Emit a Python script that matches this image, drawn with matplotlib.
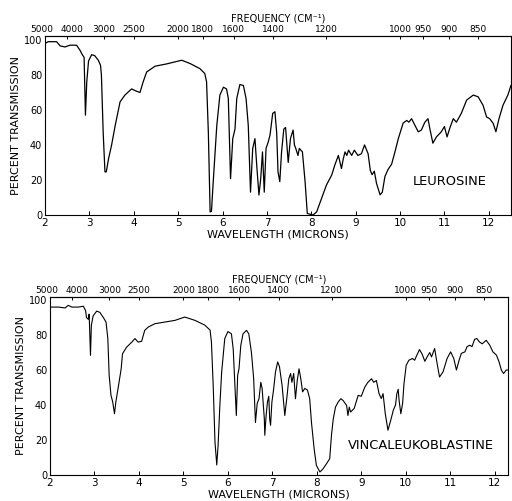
import numpy as np
import matplotlib
matplotlib.use('Agg')
import matplotlib.pyplot as plt
import matplotlib.transforms as mtrans

# Wavelength (microns) and percent transmission
leu_wl = [2.0, 2.07, 2.26, 2.34, 2.45, 2.56, 2.71, 2.79, 2.83, 2.88, 2.91, 2.94, 2.98,
          3.05, 3.12, 3.2, 3.25, 3.27, 3.31, 3.35, 3.38, 3.43, 3.5, 3.58, 3.69, 3.8,
          3.95, 4.06, 4.14, 4.21, 4.29, 4.48, 4.74, 5.08, 5.27, 5.49, 5.6, 5.64, 5.68,
          5.72, 5.75, 5.79, 5.87, 5.94, 6.02, 6.09, 6.13, 6.18, 6.23, 6.28, 6.32, 6.39,
          6.47, 6.53, 6.58, 6.63, 6.68, 6.73, 6.77, 6.82, 6.86, 6.9, 6.94, 6.98, 7.03,
          7.07, 7.13, 7.18, 7.22, 7.25, 7.29, 7.33, 7.38, 7.42, 7.48, 7.53, 7.59, 7.62,
          7.65, 7.7, 7.73, 7.8, 7.86, 7.91, 8.04, 8.12, 8.23, 8.34, 8.46, 8.53, 8.61,
          8.68, 8.72, 8.76, 8.8, 8.84, 8.91, 8.97, 9.05, 9.13, 9.2, 9.28, 9.33, 9.37,
          9.42, 9.47, 9.55, 9.6, 9.66, 9.73, 9.81, 9.88, 9.96, 10.07, 10.15, 10.2,
          10.26, 10.33, 10.41, 10.48, 10.56, 10.63, 10.67, 10.74, 10.82, 10.93, 11.0,
          11.06, 11.12, 11.2, 11.27, 11.38, 11.5, 11.65, 11.76, 11.87, 11.95, 12.02,
          12.1, 12.16, 12.23, 12.32, 12.43, 12.5]
leu_T = [98, 99, 99, 96.6, 96, 97, 97, 94, 92, 90, 57, 76, 88,
         91.6, 91, 88.4, 85.5, 80, 47, 24.6, 24.6, 32, 40, 51, 64.6, 68.5,
         72, 70.7, 70, 76, 81.7, 85, 86.3, 88.4, 86.5, 83.6, 80.8, 76, 47,
         1.7, 2, 19, 51, 68.5, 73, 72, 66.5, 20.7, 43.6, 49, 66.5, 74.5,
         74, 66.5, 51, 13, 38, 43.6, 28.5, 11.4, 20.7, 36, 13, 38, 41.7,
         45.7, 58, 59, 47, 24.6, 19, 36, 49, 50, 30, 43.6, 48.5, 40,
         38, 34, 38, 36, 19, 0.8, 0, 1.7, 9.3, 17, 22.8, 28.5, 34,
         26.5, 32, 36, 34, 37, 34, 37, 34, 35, 40, 35, 25.5, 23,
         25, 18, 11.5, 13, 22, 26, 29, 35.5, 43.5, 52.5, 54, 53,
         55, 51.5, 47.5, 48.5, 53, 55, 49.5, 41, 44.6, 47.5, 50.5,
         44.6, 49.5, 55, 53, 58, 65.6, 68.5, 67.5, 62.7, 56, 55,
         52.3, 47.5, 55, 62.7, 68.5, 74]

vin_wl = [2.0, 2.04, 2.19, 2.34, 2.41, 2.49, 2.64, 2.75, 2.8, 2.82, 2.86, 2.88, 2.91,
          2.93, 2.97, 3.05, 3.12, 3.2, 3.26, 3.3, 3.33, 3.37, 3.41, 3.45, 3.48, 3.54,
          3.6, 3.63, 3.72, 3.84, 3.91, 3.98, 4.06, 4.13, 4.21, 4.36, 4.58, 4.81, 5.03,
          5.26, 5.48, 5.6, 5.63, 5.67, 5.71, 5.75, 5.78, 5.82, 5.86, 5.93, 6.0, 6.08,
          6.12, 6.16, 6.19, 6.22, 6.25, 6.29, 6.34, 6.42, 6.47, 6.53, 6.58, 6.62, 6.66,
          6.7, 6.74, 6.77, 6.82, 6.83, 6.86, 6.89, 6.92, 6.94, 6.96, 6.99, 7.03, 7.07,
          7.12, 7.16, 7.22, 7.28, 7.33, 7.37, 7.41, 7.44, 7.48, 7.52, 7.56, 7.6, 7.64,
          7.68, 7.73, 7.79, 7.84, 7.88, 7.94, 7.99, 8.07, 8.14, 8.22, 8.29, 8.33, 8.37,
          8.42, 8.48, 8.54, 8.59, 8.67, 8.7, 8.73, 8.76, 8.84, 8.93, 9.0, 9.08, 9.15,
          9.23, 9.28, 9.34, 9.4, 9.45, 9.49, 9.54, 9.6, 9.66, 9.72, 9.77, 9.8, 9.83,
          9.85, 9.89, 9.93, 9.96, 10.01, 10.07, 10.15, 10.2, 10.25, 10.31, 10.37,
          10.43, 10.48, 10.54, 10.58, 10.65, 10.7, 10.76, 10.84, 10.93, 11.01, 11.08,
          11.14, 11.2, 11.25, 11.33, 11.38, 11.44, 11.49, 11.55, 11.6, 11.66, 11.72,
          11.81, 11.89, 11.96, 12.04, 12.1, 12.15, 12.2, 12.26, 12.3]
vin_T = [96, 96, 96, 95.5, 97, 96, 96, 96.5, 94, 90, 89, 92, 68.4,
         85.7, 91, 93.7, 93, 90, 87.4, 78, 57, 45.7, 41.7, 35, 41.7, 51,
         60.7, 69.3, 73, 76, 78, 76, 76.4, 82.7, 84.6, 86.5, 87.4, 88.4, 90.3,
         88.4, 85.7, 82.8, 76, 51, 18.8, 5.7, 17, 40, 58.8, 78, 82, 80.7,
         72, 51, 34, 57, 60.7, 74, 80.7, 82.7, 80.7, 70, 55, 30, 41,
         43.6, 53, 49.5, 32, 22.7, 34, 41.7, 45, 32, 28.4, 41.7, 49.3, 58.8,
         64.6, 62, 51, 34, 45, 55, 58, 53, 58, 43.6, 54, 60.7, 55,
         47.5, 49.5, 48.5, 43.6, 30, 15, 5.5, 1.7, 3.5, 6.5, 9.3, 22.8, 32,
         38.8, 41.7, 43.6, 42.6, 39.8, 34, 38.8, 36, 38, 45.5, 45, 50.3, 53,
         55, 53, 54, 46.5, 43.7, 46.5, 35, 25.6, 31, 37, 40, 46.5, 49,
         42.7, 35, 41, 52, 62.7, 65.6, 66.6, 65.6, 68.5, 71.7, 69,
         65, 67.5, 70, 67.5, 72.3, 64.6, 56, 59, 66.6, 70.4, 66.6,
         60, 65.6, 69.5, 70.4, 73.4, 74.2, 73.4, 77.6, 78, 76, 75,
         77, 74.2, 70.4, 68.5, 64.6, 60, 58, 60, 60]

wl_ticks = [2, 3, 4, 5, 6, 7, 8, 9, 10, 11, 12]
pct_ticks = [0, 20, 40, 60, 80, 100]
freq_ticks = [5000, 4000, 3000, 2500, 2000, 1800, 1600, 1400, 1200, 1000, 950, 900, 850]


def to_freq(x):
    x = np.array(x, dtype=float)
    out = np.full_like(x, np.inf)
    ok = np.abs(x) > 1e-9
    out[ok] = 1e4 / x[ok]
    return out


def spectrum_panel(fig, rect, wl, T, xmax, ymax, name, name_xy, lw):
    ax = fig.add_axes(rect)
    ax.plot(wl, T, color='black', linewidth=lw)
    ax.set_xlim(2, xmax)
    ax.set_ylim(0, ymax)

    ax.set_xticks(wl_ticks)
    ax.set_yticks(pct_ticks)
    ax.tick_params(axis='x', direction='in', length=3, width=0.7, labelsize=7.5, pad=2.5)
    ax.tick_params(axis='y', length=0, labelsize=7, pad=2)
    for sp in ax.spines.values():
        sp.set_linewidth(0.8)

    ax.set_xlabel('WAVELENGTH (MICRONS)', fontsize=8, labelpad=1)
    ax.set_ylabel('PERCENT TRANSMISSION', fontsize=8, labelpad=2)

    top = ax.secondary_xaxis('top', functions=(to_freq, to_freq))
    top.set_xticks(freq_ticks)
    top.set_xticklabels([str(f) for f in freq_ticks])
    top.tick_params(direction='in', length=2.5, width=0.7, labelsize=6.5, pad=1)
    top.set_xlabel('FREQUENCY (CM⁻¹)', fontsize=7, labelpad=3)

    # the crowded labels at the short-wavelength end are nudged apart
    nudge = {'5000': -3, '4000': 5}
    for lab in top.get_xticklabels():
        if lab.get_text() in nudge:
            shift = mtrans.ScaledTranslation(nudge[lab.get_text()] / 100, 0, fig.dpi_scale_trans)
            lab.set_transform(lab.get_transform() + shift)

    ax.text(name_xy[0], name_xy[1], name, fontsize=9.4, ha='center', va='center')
    return ax


fig = plt.figure(figsize=(5.12, 5.01), dpi=100)

spectrum_panel(fig, [0.088, 0.571, 0.910, 0.358], leu_wl, leu_T, 12.5, 102.5,
               'LEUROSINE', (11.12, 19), 0.9)
spectrum_panel(fig, [0.0977, 0.052, 0.8945, 0.356], vin_wl, vin_T, 12.3, 102,
               'VINCALEUKOBLASTINE', (10.35, 17), 0.8)

fig.savefig('out.png', dpi=100)
